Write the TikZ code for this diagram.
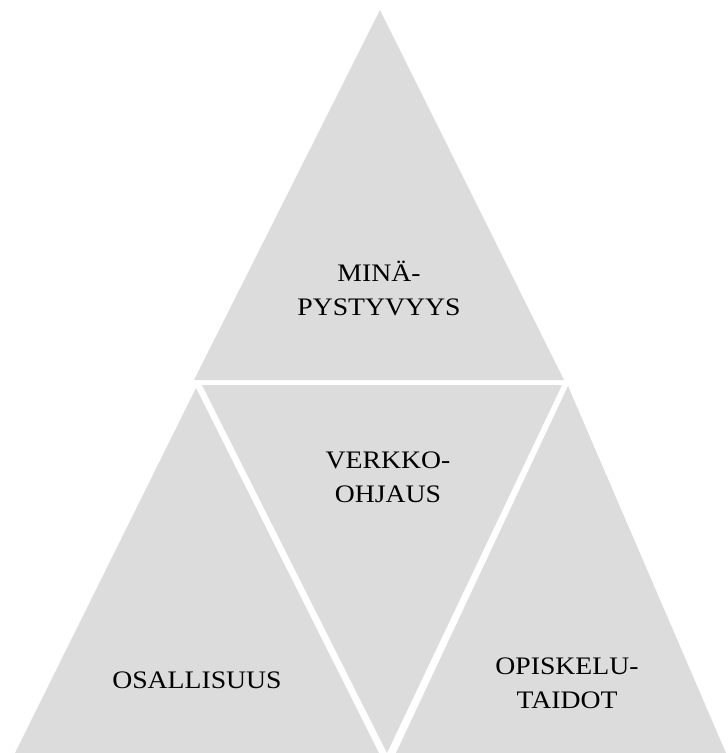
\documentclass[tikz,border=0pt]{standalone}
\usepackage{xcolor}
\usepackage{fontspec}
\usepackage{tikz}

\newfontfamily\wordfont[FakeStretch=1.1]{Liberation Serif}
\definecolor{palegray}{HTML}{DCDCDC}

\begin{document}
\begin{tikzpicture}[x=0.03cm, y=-0.03cm]
        % Define styles
        \tikzstyle{piece} = [fill=palegray, draw=none]
        \tikzstyle{word} = [align=center, inner sep=0pt, font=\wordfont\fontsize{21.5}{29}\selectfont]

        \useasboundingbox (0,0) rectangle (728,753);

        % Corners
        \coordinate (topapex) at (380,10);
        \coordinate (topleft) at (194,380);
        \coordinate (topright) at (564,380);
        \coordinate (midleft) at (202,385);
        \coordinate (midright) at (562,385);
        \coordinate (midbottom) at (387,753);
        \coordinate (leftapex) at (196,388);
        \coordinate (leftbase) at (15,753);
        \coordinate (leftend) at (379,753);
        \coordinate (rightapex) at (568,386);
        \coordinate (rightbase) at (396,753);
        \coordinate (rightend) at (726,753);

        % Triangles
        \fill [piece] (topapex) -- (topleft) -- (topright) -- cycle;
        \fill [piece] (midleft) -- (midright) -- (midbottom) -- cycle;
        \fill [piece] (leftapex) -- (leftbase) -- (leftend) -- cycle;
        \fill [piece] (rightapex) -- (rightbase) -- (rightend) -- cycle;

        % Labels
        \node [word] (minapystyvyys) at (379,288) {MIN\"A-\\PYSTYVYYS};
        \node [word] (verkko) at (388,477) {VERKKO-\\OHJAUS};
        \node [word] (osallisuus) at (197,680) {OSALLISUUS};
        \node [word] (opiskelu) at (567,683) {OPISKELU-\\TAIDOT};
    \end{tikzpicture}
\end{document}
